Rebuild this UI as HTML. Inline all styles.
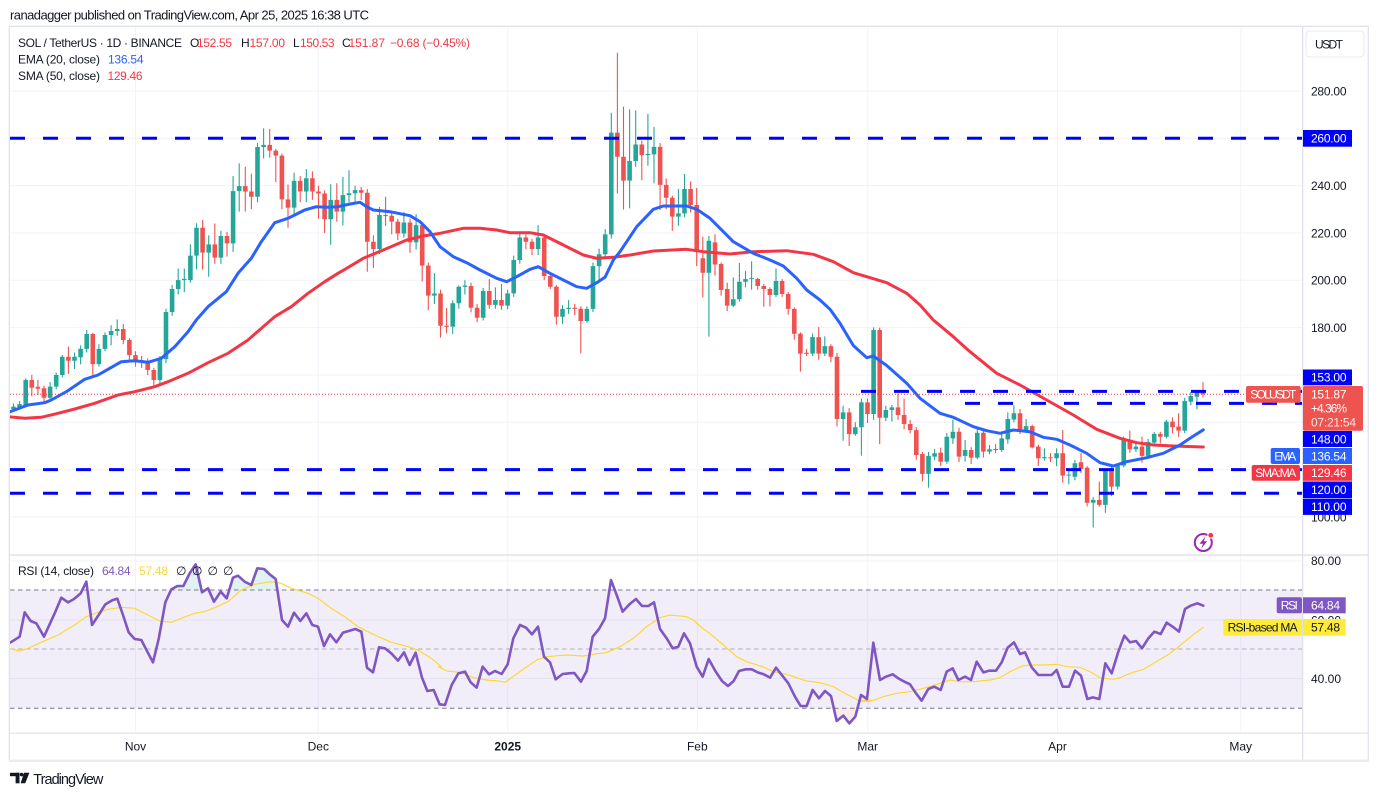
<!DOCTYPE html>
<html><head><meta charset="utf-8">
<style>
html,body{margin:0;padding:0;background:#fff;}
svg{display:block;}
text{font-family:"Liberation Sans",sans-serif;}
</style></head><body>
<svg width="1378" height="796" viewBox="0 0 1378 796" xmlns="http://www.w3.org/2000/svg">
<defs>
<clipPath id="mainClip"><rect x="10" y="27" width="1292" height="527"/></clipPath>
<clipPath id="rsiClip"><rect x="10" y="556" width="1292" height="177"/></clipPath>
<clipPath id="ob"><rect x="10" y="556" width="1292" height="34"/></clipPath>
<clipPath id="os"><rect x="10" y="708.3" width="1292" height="25"/></clipPath>
</defs>
<rect x="0" y="0" width="1378" height="796" fill="#fff"/>
<text x="10" y="19.5" font-size="13" fill="#131722" textLength="359">ranadagger published on TradingView.com, Apr 25, 2025 16:38 UTC</text>

<!-- grid -->
<g stroke="#f0f3fa" stroke-width="1">
<line x1="10" x2="1302" y1="91" y2="91"/>
<line x1="10" x2="1302" y1="138.3" y2="138.3"/>
<line x1="10" x2="1302" y1="185.6" y2="185.6"/>
<line x1="10" x2="1302" y1="233" y2="233"/>
<line x1="10" x2="1302" y1="280.3" y2="280.3"/>
<line x1="10" x2="1302" y1="327.6" y2="327.6"/>
<line x1="10" x2="1302" y1="375" y2="375"/>
<line x1="10" x2="1302" y1="422.3" y2="422.3"/>
<line x1="10" x2="1302" y1="469.7" y2="469.7"/>
<line x1="10" x2="1302" y1="517" y2="517"/>
<line x1="10" x2="1302" y1="561" y2="561"/>
<line x1="10" x2="1302" y1="620" y2="620"/>
<line x1="10" x2="1302" y1="678.5" y2="678.5"/>
<line x1="135.5" x2="135.5" y1="27" y2="733"/>
<line x1="318.3" x2="318.3" y1="27" y2="733"/>
<line x1="507.7" x2="507.7" y1="27" y2="733"/>
<line x1="697.3" x2="697.3" y1="27" y2="733"/>
<line x1="867.7" x2="867.7" y1="27" y2="733"/>
<line x1="1057.5" x2="1057.5" y1="27" y2="733"/>
<line x1="1240.7" x2="1240.7" y1="27" y2="733"/>
</g>

<!-- RSI band -->
<rect x="10" y="590" width="1292" height="118.3" fill="#7e57c2" fill-opacity="0.1"/>
<g stroke="#787b86" stroke-width="1" stroke-dasharray="4.5 3.5">
<line x1="10" x2="1302" y1="590" y2="590"/>
<line x1="10" x2="1302" y1="649" y2="649" stroke-opacity="0.55"/>
<line x1="10" x2="1302" y1="708.3" y2="708.3"/>
</g>

<!-- candles -->
<g clip-path="url(#mainClip)">
<g transform="matrix(6.1 0 0 -2.3667 13.5 753.64)" fill="none">
<path vector-effect="non-scaling-stroke" stroke="#26a69a" stroke-width="1.1" d="M0 148V144.5M1 149V145.5M2 158.6V146.8M6 157V149.5M7 161V154M8 168.5V159M10 169.5V162.5M11 172.5V164.5M12 179V169.5M14 173V163.5M15 178V170M16 181V172.5M17 183.5V176.5M24 168V155.5M25 188V165M26 198V185M27 205V194M28 205V195M29 215.2V199M30 224.1V204.6M32 219V201.5M34 221V207M36 244V212M37 249.4V229M40 258V233M41 264.2V251.5M46 245.5V227M48 247V233M52 240.6V215M54 243.7V223.2M55 246.5V233M56 240V233M60 231V211M64 228.8V218M66 227.9V213M69 203V190M72 191.5V177.3M73 197.8V188M74 200V194M77 196.8V183M79 197V188M81 196V187.7M82 210.4V193M83 220.4V207M86 223.3V210.7M90 189.5V181.6M91 191.6V185.8M94 189V182.1M95 207.5V186.6M96 213.4V199.8M97 221.6V209.5M98 270.8V217.6M101 272.2V230.4M102 271.8V248M104 270.3V248.4M105 264.8V241M109 238.6V223M110 244.9V226.6M114 218.7V176.2M118 201.2V188.6M119 207.3V191M120 204V197M121 208V196M125 205V193M131 177.6V168M133 176.3V168M136 147V132.2M138 140V134.3M139 150V125.9M141 180.1V141M143 147V140.5M144 147.3V140.3M150 127.5V112.4M151 128.7V124M153 135.5V122.5M154 141.1V130.9M156 132.5V123.4M158 137.3V124.4M160 130.4V126.5M162 135V127.5M163 144.2V131M164 147.2V140M166 141.4V135.5M169 129V123.8M171 129V121.5M173 119.5V113.8M174 124.1V115.5M177 108.4V95.6M179 120.5V101.8M181 122.5V111.6M182 134V121M184 131.5V127.5M186 133V124.8M187 135.8V130.5M189 141.1V133.2M192 150.4V135.4M193 152.8V147.2M194 153.6V145.5"/>
<path vector-effect="non-scaling-stroke" stroke="#26a69a" stroke-width="4.6" d="M0 145.6V146.6M1 146.2V147.7M2 147.3V157.9M6 150.4V155.1M7 155.1V160M8 160V167.7M10 166V167.7M11 167.5V171M12 171V177.3M14 164.6V171M15 171V176.9M16 176.9V178.6M17 178.6V179.4M24 157.9V166.7M25 166.7V186.6M26 186.6V196.3M27 196.3V200.1M28 200.1V200.6M29 200.1V210.4M30 210.4V222.2M32 211.7V215.2M34 209.6V218.7M36 215.6V237.7M37 237.7V239.8M40 235.3V256.3M41 256.3V257.2M46 230.7V242M48 237.5V243.1M52 225.8V234M54 229V236M55 236V236.8M56 236.8V238.1M60 213.2V227.6M64 219.8V224.4M66 216V223.3M69 193.5V194.4M72 180.4V190.3M73 190.3V197.3M74 197.3V197.8M77 184.2V195.5M79 189.6V191.7M81 189.3V194.5M82 194.5V208.6M83 208.6V218.1M86 213.2V218.1M90 184.6V187.9M91 187.9V188.4M94 182.8V187.9M95 187.9V206M96 206V211M97 211V219.4M98 219.4V262.4M101 242.1V250.4M102 250.4V257.4M104 252.9V253.4M105 253.2V256.4M109 226.9V228.3M110 228.3V238.6M114 203.2V216.7M118 189.3V192M119 192V199.4M120 199.4V200.5M121 200.5V200.9M125 193.8V199.7M131 169V176M133 169V172.2M136 141.4V144.2M138 135V137.9M139 137.9V148.4M141 143.5V179M143 141.9V145.2M144 145.2V146.3M150 118.2V125.8M151 125.5V126.9M153 123.4V133.9M154 133.2V136M156 125.8V128.3M158 125.1V135.6M160 127.6V128.6M162 128.3V133.2M163 132.8V141.4M164 141.2V143.8M166 136.7V138.4M169 124.8V125.3M171 124.8V126.9M173 117.5V117.9M174 117V122.7M177 106V107.2M179 105.1V119.6M181 112.8V121.7M182 121.7V132.8M184 128.6V129.7M186 125.8V131.7M187 131.4V135.1M189 133.9V140.3M192 136.5V149M193 148.7V151.1M194 150.8V152.9"/>
<path vector-effect="non-scaling-stroke" stroke="#ef5350" stroke-width="1.1" d="M3 160V151M4 158V151.5M5 155.5V148M9 172V160.5M13 177.8V159.5M18 181.5V173M19 175.5V166M20 170V163.5M21 168V163M22 167V160M23 163V155M31 225.5V204.5M33 224V207M35 220.5V210M38 248V229M39 245V230M42 264V251.8M43 255.5V241.5M44 253.5V230M45 240.5V222.2M47 244V233M49 246V234M50 240V226M51 238V220M53 241V224.8M57 239.5V234M58 238.5V203.6M59 219V205.2M61 235.3V223M62 229V219.4M63 226V217M65 226V211.6M67 224.5V199.5M68 207.5V187.4M70 196V175.8M71 188.3V177.7M75 199V186.5M76 190V182.2M78 200.5V188M80 198.5V187.5M84 219.4V213.1M85 217.5V210.7M87 218.6V200M88 203V196.3M89 198V181.2M92 190V185.3M93 189V169.1M99 296.2V236.7M100 273.4V229.9M103 259V242.3M106 258V229.7M107 243V230M108 235.8V220.9M111 241.8V228.7M112 239V206M113 218.4V192.8M115 219.4V202M116 207.5V193.5M117 199V187M122 201V196M123 198.5V188.8M124 197V189M126 200.5V193M127 195V185.5M128 188.5V174.9M129 178V161.4M130 171V168M132 180.2V166.5M134 173V165.4M135 169.3V138.2M137 146V130M140 150V139.7M142 180V130.8M145 152.1V141M146 150V137M147 141V135.3M148 138V124.2M149 127.5V115M152 129.3V121.5M155 137.7V123.2M157 129.5V122.4M159 137.2V125.1M161 130.8V127M165 145.6V135M167 139V129M168 130.5V121.6M170 127V123.2M172 136.8V114.5M175 127V118.5M176 121.5V104.5M178 115V104.3M180 121.7V108.8M183 136.5V127.1M185 133.9V122.9M188 136V131.1M190 142.1V135.3M191 143.8V133.9M195 157V150.53"/>
<path vector-effect="non-scaling-stroke" stroke="#ef5350" stroke-width="4.6" d="M3 157.9V154.6M4 155V154.2M5 154.4V150.4M9 167.7V166M13 177.3V164.6M18 179.4V174.8M19 174.8V168.4M20 168.4V165.9M21 166.2V165.7M22 165.9V162.1M23 162.1V157.9M31 222.2V211.7M33 215.2V209.6M35 218.7V215.6M38 239.8V237.5M39 237.5V235.3M42 257.2V254.8M43 254.8V252.7M44 252.7V234.2M45 234.2V230.7M47 242V237.5M49 243.1V237.5M50 237.5V236.7M51 236.7V225.8M53 234V229M57 238.1V237M58 237V216.3M59 216.3V213.2M61 227.6V227.1M62 227.3V224.8M63 224.8V219.8M65 224.4V216M67 223.3V206.2M68 206.2V193.5M70 194.4V180.8M71 180.8V180.3M75 197.6V188.4M76 188.4V184.2M78 195.5V189.6M80 191.7V189.3M84 218.1V216.3M85 216.3V213.2M87 218.1V201.8M88 201.8V197.3M89 197.3V184.6M92 188.4V187.9M93 188V182.8M99 262.4V252.2M100 252.2V242.1M103 257.4V252.9M106 256.4V240.3M107 240.3V234.9M108 234.9V226.9M111 238.6V231.8M112 231.8V212.8M113 209.3V203.2M115 216V206.7M116 206.9V195.9M117 196.3V189.3M122 200.6V197.6M123 197.6V196.3M124 196.3V193.8M126 199.7V194.2M127 194.2V187.9M128 187.9V177.4M129 177.4V169M130 169.4V168.9M132 176V169M134 172.2V167.7M135 167.7V141.4M137 144.2V135M140 148.4V143.5M142 179V141.9M145 146.3V143.1M146 143.1V139.3M147 139.3V136.7M148 136.7V126.2M149 126.6V118.2M152 127.2V123.4M155 136V125.5M157 128.3V125.1M159 135.6V127.6M161 128.7V128.3M165 143.8V136.7M167 138.4V129.4M168 129.7V124.8M170 125.2V124.8M172 126.9V117.5M175 123.1V120.3M176 120.8V106M178 107.2V105.1M180 119.6V112.8M183 132.5V128.6M185 129.7V125.8M188 135.1V133.9M190 140.3V137.9M191 138.2V136.5M195 152.55V151.87"/>
</g>
<polyline fill="none" stroke="#f23645" stroke-width="3" stroke-linejoin="round" stroke-linecap="round" points="10,416.9 24.7,418.3 41.3,417.3 58,413.3 74.7,409 94.7,403.3 118,395 134.7,391.7 154.7,386.7 168,381.7 188,373.3 208,362.7 228,353.3 248,340 274.7,316.7 291.3,306.7 308,293.3 324.7,281.7 338,273.3 346.7,268.3 363.3,258.3 383.3,250 406.7,240 423.3,236 440,233.3 463.3,228.3 480,228.3 496.7,230 510,232.7 530,232.7 543.3,235 563.3,245 583.3,255 596.7,258.3 613.3,257.3 630,255 653.3,251 686.7,249.3 703.3,251.7 730,254 753.3,251.7 786.7,250.7 813.3,254.3 833.3,261.7 853.3,272.7 866.7,276.7 886.7,282.7 906.7,293.3 920,305 933.3,320 953.3,336.7 970,351.7 996.7,373.3 1020,385 1046.7,400 1073.3,415 1096.7,429.3 1120,438.3 1136.7,442.7 1153.3,445 1173.3,446 1203.3,447"/>
<polyline fill="none" stroke="#2962ff" stroke-width="3" stroke-linejoin="round" stroke-linecap="round" points="10,411.7 28,405 44.7,402.7 51.3,400 66.3,391.7 84.7,379.3 98,375 108,369.3 121.3,361.7 134.7,360.7 148,362.3 161.3,358.3 174.7,346.7 188,331.7 196.3,320 208,306.7 226.3,291.7 238,273.3 251.3,258.3 261.3,241.7 274.7,222.7 288,218.3 294.7,215 304.7,210 316.3,206.7 328,207.3 338,206.7 350,204 360,202.3 366.7,206.7 373.3,210 390,211.7 410,215.7 420,221.7 430,231.7 440,246.7 453.3,256.7 466.7,262.7 480,270 496.7,278.3 506.7,281.7 516.7,276.7 530,269.3 538.3,266.7 550,273.3 563.3,280 576.7,286.7 586.7,288.3 596.7,282.7 605,277.3 613.3,260 620,251.7 636.7,226.7 653.3,209.3 663.3,206 686.7,206 696.7,209.3 710,218.3 720,228.3 733.3,241.7 753.3,253.3 770,260 783.3,266 796.7,278.3 806.7,290 820,300 830,309.3 840,323.3 853.3,345.5 866.7,357.7 873.3,356 886.7,365.5 906.7,383.3 920,398.3 940,413.3 953.3,417.3 973.3,426.7 986.7,430.7 1000,433.3 1013.3,430 1030,431.7 1043.3,437.3 1056.7,439.3 1070,445 1086.7,453.3 1100,462.7 1113.3,466 1126.7,461.7 1146.7,457.7 1163.3,453.3 1180,445 1190,438.3 1203.3,429.8"/>
</g>

<!-- RSI fills -->
<g clip-path="url(#ob)">
<polygon transform="translate(8 555) scale(0.333333)" fill="#26a69a" fill-opacity="0.14" points="452,252 472,142 490,103 508,93 526,93 545,55 563,28 582,112 600,100 618,140 638,110 656,130 675,68 690,62 710,80 730,90 748,40 768,42 785,58 803,72 822,195 822,105 452,105"/>
</g>
<g clip-path="url(#os)">
<polygon transform="translate(440 555) scale(0.333333)" fill="#ef5350" fill-opacity="0.12" points="1155,408 1173,423 1190,498 1210,482 1228,505 1246,485 1263,420 1263,460 1155,460"/>
</g>
<!-- RSI MA & RSI -->
<g clip-path="url(#rsiClip)" fill="none" stroke-linejoin="round" stroke-linecap="round">
<polyline transform="translate(8 555) scale(0.333333)" vector-effect="non-scaling-stroke" stroke="#fdd835" stroke-width="1.2" points="0,280 35,288 60,280 100,262 150,240 200,210 235,185 270,172 300,163 340,157 380,160 420,180 455,198 490,202 520,190 560,175 590,170 620,158 660,140 700,105 740,88 790,80 820,85 850,100 900,115 930,130 970,160 1010,185 1050,215 1100,240 1150,262 1200,275 1230,285 1270,310 1300,335"/>
<polyline transform="translate(440 555) scale(0.333333)" vector-effect="non-scaling-stroke" stroke="#fdd835" stroke-width="1.2" points="-4,335 20,348 60,352 100,368 140,375 175,378 195,382 240,350 290,315 320,305 380,300 430,303 470,296 500,293 540,275 580,250 620,215 660,188 690,180 740,185 760,195 790,222 810,236 850,270 890,305 920,320 970,336 1000,350 1040,358 1100,378 1140,383 1180,395 1220,418 1260,438 1285,440 1300,436"/>
<polyline transform="translate(870 555) scale(0.333333)" vector-effect="non-scaling-stroke" stroke="#fdd835" stroke-width="1.2" points="-30,436 10,436 40,425 80,415 120,410 160,400 200,388 240,375 270,380 310,380 360,375 390,368 420,350 460,332 480,330 520,330 560,328 590,335 630,337 660,350 690,368 730,373 750,368 780,355 820,343 850,325 890,302 920,280 950,255 975,235 1000,217"/>
<polyline transform="translate(8 555) scale(0.333333)" vector-effect="non-scaling-stroke" stroke="#7e57c2" stroke-width="2.6" points="8,262 35,245 50,172 68,198 85,205 108,245 140,175 160,128 180,142 198,132 218,115 235,80 252,210 272,180 292,148 312,136 328,131 345,180 362,232 380,252 400,255 418,290 435,322 452,252 472,142 490,103 508,93 526,93 545,55 563,28 582,112 600,100 618,140 638,110 656,130 675,68 690,62 710,80 730,90 748,40 768,42 785,58 803,72 822,195 840,215 858,173 877,198 895,175 913,210 930,215 948,273 966,238 985,262 1005,233 1022,228 1042,222 1060,230 1077,338 1095,352 1113,277 1131,280 1150,295 1170,317 1188,292 1205,330 1223,293 1242,368 1258,408 1277,405 1295,448"/>
<polyline transform="translate(440 555) scale(0.333333)" vector-effect="non-scaling-stroke" stroke="#7e57c2" stroke-width="2.6" points="-1,448 15,450 35,390 55,355 75,350 92,382 110,398 128,335 147,358 165,348 185,357 203,328 220,250 240,210 258,218 276,238 294,215 312,305 330,322 347,373 368,357 387,355 403,354 423,380 440,348 458,245 477,222 495,190 513,75 530,120 548,170 568,148 588,132 606,153 625,153 642,142 660,222 680,250 698,280 715,275 732,235 750,265 770,335 788,365 806,312 826,348 846,378 864,393 881,378 897,348 916,343 935,343 953,352 972,358 990,368 1008,338 1027,362 1045,385 1065,425 1082,453 1100,453 1118,405 1137,430 1155,408 1173,423 1190,498 1210,482 1228,505 1246,485 1263,420 1281,432"/>
<polyline transform="translate(870 555) scale(0.333333)" vector-effect="non-scaling-stroke" stroke="#7e57c2" stroke-width="2.6" points="-9,432 10,263 30,375 48,365 68,358 85,370 103,380 120,388 138,415 155,437 175,402 193,395 212,405 230,350 248,340 265,375 285,365 303,375 320,320 340,352 358,347 378,347 395,322 413,278 432,262 450,297 465,292 485,337 505,360 523,360 545,360 560,345 578,395 597,395 615,347 633,362 652,432 668,427 688,432 706,325 725,355 745,290 763,242 780,262 798,258 816,280 835,250 853,230 872,237 890,203 908,215 927,230 945,162 962,152 982,145 1000,152"/>
</g>

<!-- horizontal levels -->
<g stroke="#0000ff" stroke-width="3" stroke-dasharray="15 18" clip-path="url(#mainClip)">
<line x1="10" x2="1302" y1="138.3" y2="138.3"/>
<line x1="861" x2="1302" y1="391.4" y2="391.4"/>
<line x1="965" x2="1302" y1="403.4" y2="403.4"/>
<line x1="10" x2="1302" y1="469.6" y2="469.6"/>
<line x1="10" x2="1302" y1="493.3" y2="493.3"/>
</g>
<line x1="10" x2="1302" y1="394.2" y2="394.2" stroke="#f23645" stroke-width="1" stroke-dasharray="1 2"/>

<!-- legends -->
<g font-size="12" fill="#131722">
<text x="18" y="47" textLength="164">SOL / TetherUS · 1D · BINANCE</text>
<text x="190" y="47">O</text><text x="197" y="47" fill="#f23645" textLength="35">152.55</text>
<text x="241" y="47">H</text><text x="249.5" y="47" fill="#f23645" textLength="35.5">157.00</text>
<text x="293" y="47">L</text><text x="300" y="47" fill="#f23645" textLength="34.5">150.53</text>
<text x="342" y="47">C</text><text x="348.5" y="47" fill="#f23645" textLength="36.5">151.87</text>
<text x="390" y="47" fill="#f23645" textLength="80">−0.68 (−0.45%)</text>
<text x="18" y="63.5" textLength="82">EMA (20, close)</text><text x="108" y="63.5" fill="#2962ff" textLength="35.5">136.54</text>
<text x="18" y="80" textLength="82">SMA (50, close)</text><text x="107.5" y="80" fill="#f23645" textLength="35">129.46</text>
<text x="18" y="575" textLength="76">RSI (14, close)</text>
<text x="102" y="575" fill="#7e57c2" textLength="28.5">64.84</text>
<text x="139" y="575" fill="#fdd835" textLength="29">57.48</text>
<text x="176" y="575">∅</text><text x="192" y="575">∅</text><text x="207.5" y="575">∅</text><text x="223" y="575">∅</text>
</g>

<!-- lightning icon -->
<circle cx="1203.3" cy="542.5" r="8.5" fill="#fff" stroke="#9c27b0" stroke-width="2"/>
<polygon points="1205.5,536.5 1199.5,543.8 1203,543.8 1201.2,548.8 1207.2,541.2 1203.8,541.2" fill="#9c27b0"/>
<circle cx="1210.7" cy="535.3" r="2.9" fill="#f23645" stroke="#fff" stroke-width="1"/>

<!-- separators & frame -->
<rect x="10" y="554.3" width="1358" height="1.5" fill="#e0e3eb"/>
<rect x="10" y="732.6" width="1358" height="1.2" fill="#e0e3eb"/>
<rect x="1302" y="26" width="1.3" height="735" fill="#e0e3eb"/>
<rect x="9.3" y="26.3" width="1359" height="734.5" fill="none" stroke="#e0e3eb" stroke-width="1.3"/>
<rect x="9" y="759.6" width="1360" height="2.4" fill="#e9ecf1"/>

<!-- price axis -->
<rect x="1306" y="31" width="58" height="26" rx="4" fill="#fff" stroke="#e6e8ee" stroke-width="1"/>
<text x="1315" y="48.3" font-size="12" fill="#131722" textLength="28">USDT</text>
<g font-size="12" fill="#131722">
<text x="1311" y="95.3" textLength="35.5">280.00</text>
<text x="1311" y="189.9" textLength="35.5">240.00</text>
<text x="1311" y="237.3" textLength="35.5">220.00</text>
<text x="1311" y="284.6" textLength="35.5">200.00</text>
<text x="1311" y="331.9" textLength="35.5">180.00</text>
<text x="1311" y="379.3" textLength="35.5">160.00</text>
<text x="1311" y="426.6" textLength="35.5">140.00</text>
<text x="1311" y="474" textLength="35.5">120.00</text>
<text x="1311" y="521.3" textLength="35.5">100.00</text>
<text x="1311" y="565" textLength="30">80.00</text>
<text x="1311" y="624.3" textLength="30">60.00</text>
<text x="1311" y="682.8" textLength="30">40.00</text>
</g>
<!-- level boxes -->
<g font-size="12" fill="#fff">
<rect x="1303" y="130" width="49" height="16.7" fill="#0000ff"/><text x="1311" y="142.6" textLength="35.5">260.00</text>
<rect x="1303" y="369.5" width="49" height="15.8" fill="#0000ff"/><text x="1311" y="381.6" textLength="35.5">153.00</text>
<rect x="1246" y="386" width="54.7" height="16.7" rx="2" fill="#ef5350"/><text x="1273.3" y="398.6" text-anchor="middle" textLength="46">SOLUSDT</text>
<rect x="1303" y="386" width="60" height="44.7" rx="2" fill="#ef5350"/>
<text x="1311" y="398.6" textLength="35.5">151.87</text>
<text x="1311" y="412.6" textLength="36">+4.36%</text>
<text x="1311" y="426.6" textLength="45" fill-opacity="0.85">07:21:54</text>
<rect x="1303" y="431" width="49" height="16" fill="#0000ff"/><text x="1311" y="443.3" textLength="35.5">148.00</text>
<rect x="1270.7" y="448" width="29.3" height="16" rx="2" fill="#2962ff"/><text x="1285.3" y="460.3" text-anchor="middle" textLength="22">EMA</text>
<rect x="1303" y="448" width="49" height="16" fill="#2962ff"/><text x="1311" y="460.3" textLength="35.5">136.54</text>
<rect x="1251.7" y="465" width="48.3" height="15.8" rx="2" fill="#f23645"/><text x="1275.8" y="477.2" text-anchor="middle" textLength="41">SMA:MA</text>
<rect x="1303" y="465" width="49" height="15.8" fill="#f23645"/><text x="1311" y="477.2" textLength="35.5">129.46</text>
<rect x="1303" y="481.5" width="49" height="16.5" fill="#0000ff"/><text x="1311" y="494" textLength="35.5">120.00</text>
<rect x="1303" y="498.6" width="49" height="16.3" fill="#0000ff"/><text x="1311" y="511" textLength="35.5">110.00</text>
<rect x="1276.7" y="597.3" width="25.3" height="16" rx="2" fill="#7e57c2"/><text x="1289.3" y="609.6" text-anchor="middle" textLength="17">RSI</text>
<rect x="1303" y="597.3" width="42.7" height="16" fill="#7e57c2"/><text x="1311" y="609.6" textLength="29">64.84</text>
<rect x="1223.3" y="619" width="78.7" height="16.7" rx="2" fill="#ffeb3b"/><text x="1262.6" y="631.6" text-anchor="middle" fill="#131722" textLength="70">RSI-based MA</text>
<rect x="1303" y="619" width="42.7" height="16.7" fill="#ffeb3b"/><text x="1311" y="631.6" fill="#131722" textLength="29">57.48</text>
</g>

<!-- time axis -->
<g font-size="12" fill="#131722" text-anchor="middle">
<text x="135.5" y="750.5">Nov</text>
<text x="318.3" y="750.5">Dec</text>
<text x="507.7" y="750.5" font-weight="bold">2025</text>
<text x="697.3" y="750.5">Feb</text>
<text x="867.7" y="750.5">Mar</text>
<text x="1057.5" y="750.5">Apr</text>
<text x="1240.7" y="750.5">May</text>
</g>

<!-- TradingView logo -->
<g fill="#131722">
<rect x="10" y="772.8" width="9.5" height="3.4"/>
<rect x="15.6" y="772.8" width="3.9" height="10.5"/>
<circle cx="21.6" cy="774.6" r="1.8"/>
<polygon points="24,772.8 29.4,772.8 25.2,783.3 20.6,783.3"/>
</g>
<text x="33.3" y="783.8" font-size="14.5" fill="#131722" textLength="70">TradingView</text>
</svg>
</body></html>
